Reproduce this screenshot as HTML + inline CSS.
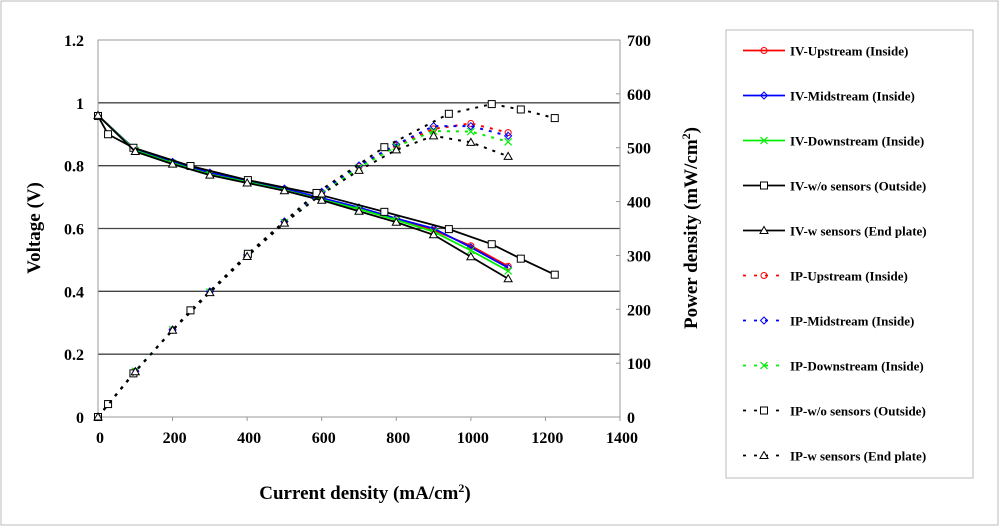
<!DOCTYPE html>
<html><head><meta charset="utf-8"><style>
body{margin:0;background:#fff;}
svg text{font-family:"Liberation Serif",serif;font-weight:bold;fill:#000;}
</style></head><body>
<svg id="chart" width="1000" height="527" xmlns="http://www.w3.org/2000/svg">
<rect x="1" y="1" width="997" height="524" fill="#fff" stroke="#bbb"/>
<g id="plot"></g>
<g id="legend"></g>
</svg>
<script>
const xTicks=[0,200,400,600,800,1000,1200,1400];
const yTicks=[0,0.2,0.4,0.6,0.8,1,1.2];
const pTicks=[0,100,200,300,400,500,600,700];
const cur=[0,100,200,300,400,500,600,700,800,900,1000,1100];
const curWo=[0,27,95,248,402,586,768,941,1056,1134,1225];
const ivUp=[0.96,0.85,0.81,0.775,0.75,0.725,0.695,0.665,0.63,0.595,0.545,0.48];
const ivMid=[0.96,0.85,0.812,0.778,0.752,0.727,0.697,0.667,0.632,0.6,0.54,0.475];
const ivDown=[0.96,0.848,0.808,0.772,0.748,0.722,0.692,0.662,0.627,0.59,0.53,0.465];
const ivWo=[0.958,0.9,0.857,0.799,0.754,0.71,0.653,0.598,0.55,0.504,0.453];
const ivW=[0.96,0.845,0.805,0.77,0.745,0.72,0.69,0.655,0.62,0.58,0.51,0.44];
const ipUp=[0,85,162,232,300,362,417,465,504,535,545,528];
const ipMid=[0,85,162,233,301,363,418,467,506,540,540,522];
const ipDown=[0,85,162,232,299,361,415,463,502,531,530,511];
const ipWo=[0,24,81,198,303,416,501,563,581,571,555];
const ipW=[0,84,161,231,298,360,414,458,496,522,510,484];
const NS='http://www.w3.org/2000/svg';
const X0=98,X1=620,Y0=417,Y1=40;
const sx=c=>X0+c/1400*(X1-X0);
const sy=v=>Y0-v/1.2*(Y0-Y1);
const sp=p=>Y0-p/700*(Y0-Y1);
const plot=document.getElementById('plot');
const leg=document.getElementById('legend');
function mk(tag,attrs,parent){const e=document.createElementNS(NS,tag);for(const k in attrs)e.setAttribute(k,attrs[k]);parent.appendChild(e);return e;}
yTicks.forEach(v=>{if(v>0&&v<1.2){const l=mk('line',{x1:X0,x2:X1,y1:sy(v),y2:sy(v),stroke:'#444','stroke-width':1.3},plot);

}});
const fr=mk('rect',{x:X0,y:Y1,width:X1-X0,height:Y0-Y1,fill:'none',stroke:'#999'},plot);


yTicks.forEach(v=>{const t=mk('text',{x:84,y:sy(v)+6,'text-anchor':'end','font-size':16},plot);t.textContent=String(v);

});
pTicks.forEach(p=>{const t=mk('text',{x:627,y:sp(p)+6,'font-size':16},plot);t.textContent=String(p);


const tk=mk('line',{x1:X1-4,x2:X1,y1:sp(p),y2:sp(p),stroke:'#999'},plot);

});
xTicks.forEach((c,i)=>{const t=mk('text',{x:sx(c)+2,y:443,'text-anchor':'middle','font-size':16},plot);t.textContent=String(c);


const tk=mk('line',{x1:sx(c),x2:sx(c),y1:Y0,y2:Y0+4,stroke:'#999'},plot);

});
let t=mk('text',{transform:'translate(40,228) rotate(-90)','text-anchor':'middle','font-size':19},plot);t.textContent='Voltage (V)';


t=mk('text',{transform:'translate(697,228) rotate(-90)','text-anchor':'middle','font-size':19},plot);t.innerHTML='Power density (mW/cm<tspan font-size="12" dy="-7">2</tspan><tspan dy="7">)</tspan>';


t=mk('text',{x:365,y:499,'text-anchor':'middle','font-size':19},plot);t.innerHTML='Current density (mA/cm<tspan font-size="12" dy="-7">2</tspan><tspan dy="7">)</tspan>';


function marker(g,type,x,y,col){
 if(type==='circle')return mk('circle',{cx:x,cy:y,r:3,fill:'none',stroke:col},g);
 if(type==='diamond')return mk('path',{d:`M${x} ${y-3.5}L${x+3.5} ${y}L${x} ${y+3.5}L${x-3.5} ${y}Z`,fill:'none',stroke:col},g);
 if(type==='x')return mk('path',{d:`M${x-3.5} ${y-3.5}L${x+3.5} ${y+3.5}M${x+3.5} ${y-3.5}L${x-3.5} ${y+3.5}`,stroke:col,'stroke-width':1.2},g);
 if(type==='square')return mk('rect',{x:x-3.5,y:y-3.5,width:7,height:7,fill:'#fff',stroke:col},g);
 return mk('path',{d:`M${x} ${y-4}L${x+4} ${y+3}L${x-4} ${y+3}Z`,fill:'#fff',stroke:col},g);
}
const series=[
 {n:'IV-Upstream (Inside)',xs:cur,v:ivUp,c:'#f00',m:'circle',d:false,s:sy,name:'iv-upstream-line'},
 {n:'IV-Midstream (Inside)',xs:cur,v:ivMid,c:'#00f',m:'diamond',d:false,s:sy,name:'iv-midstream-line'},
 {n:'IV-Downstream (Inside)',xs:cur,v:ivDown,c:'#0e0',m:'x',d:false,s:sy,name:'iv-downstream-line'},
 {n:'IV-w/o sensors (Outside)',xs:curWo,v:ivWo,c:'#000',m:'square',d:false,s:sy,name:'iv-without-sensors-line'},
 {n:'IV-w sensors (End plate)',xs:cur,v:ivW,c:'#000',m:'tri',d:false,s:sy,name:'iv-with-sensors-line'},
 {n:'IP-Upstream (Inside)',xs:cur,v:ipUp,c:'#f00',m:'circle',d:true,s:sp,name:'ip-upstream-line'},
 {n:'IP-Midstream (Inside)',xs:cur,v:ipMid,c:'#00f',m:'diamond',d:true,s:sp,name:'ip-midstream-line'},
 {n:'IP-Downstream (Inside)',xs:cur,v:ipDown,c:'#0e0',m:'x',d:true,s:sp,name:'ip-downstream-line'},
 {n:'IP-w/o sensors (Outside)',xs:curWo,v:ipWo,c:'#000',m:'square',d:true,s:sp,name:'ip-without-sensors-line'},
 {n:'IP-w sensors (End plate)',xs:cur,v:ipW,c:'#000',m:'tri',d:true,s:sp,name:'ip-with-sensors-line'}
];
series.forEach((s,i)=>{
 const g=mk('g',{},plot);
 
 
 const pts=s.xs.map((c,j)=>sx(c)+','+s.s(s.v[j])).join(' ');
 const a={points:pts,fill:'none',stroke:s.c,'stroke-width':s.d?2:1.8};
 if(s.d)a['stroke-dasharray']='3,6';
 mk('polyline',a,g);
 s.xs.forEach((c,j)=>{const m=marker(g,s.m,sx(c),s.s(s.v[j]),s.c);
 
 });
 const y=50.5+i*45;
 const lg=mk('g',{},leg);
 
 
 const la={x1:743,x2:785,y1:y,y2:y,stroke:s.c,'stroke-width':1.8};
 if(s.d)la['stroke-dasharray']='3,8';
 mk('line',la,lg);
 marker(lg,s.m,764,y,s.c);
 const tx=mk('text',{x:790,y:y+5,'font-size':13},lg);tx.textContent=s.n;
});
const lb=mk('rect',{x:726,y:30,width:247,height:448,fill:'none',stroke:'#bbb'},leg);


</script>
</body></html>
